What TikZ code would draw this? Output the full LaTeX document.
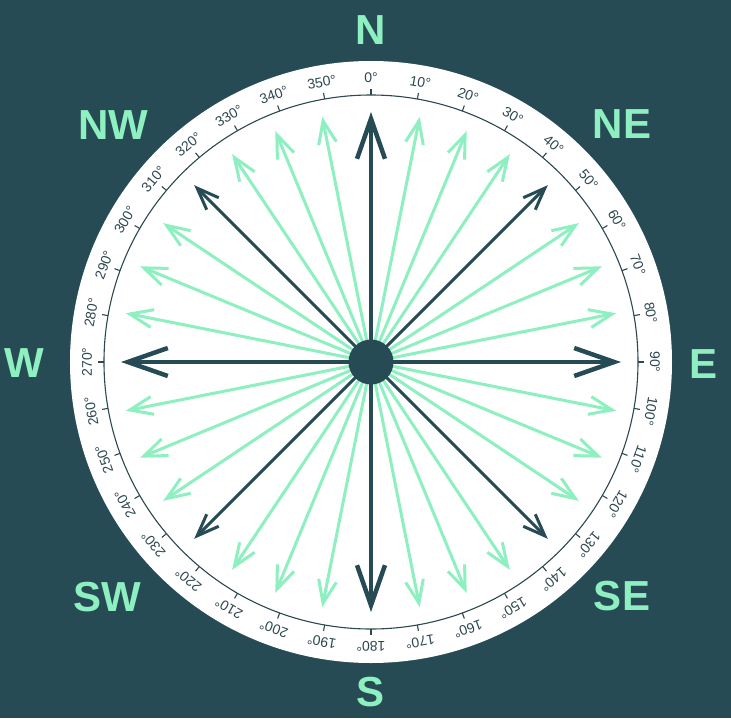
\documentclass[tikz,border=0pt]{standalone}
\usepackage{fontspec}
\setmainfont{Liberation Sans}
\usetikzlibrary{arrows.meta}
\definecolor{compassbg}{RGB}{38,75,84}
\definecolor{mint}{RGB}{142,240,192}
\definecolor{dialink}{RGB}{45,72,79}

\begin{document}
\begin{tikzpicture}[
    x=1pt, y=1pt,
    % text styles
    dirlabel/.style={text=mint, font=\fontsize{42}{42}\selectfont\bfseries, inner sep=0pt},
    deglabel/.style={text=dialink, font=\fontsize{14}{14}\selectfont, inner sep=0pt},
    % dial and rays
    dialline/.style={draw=dialink, line width=1.1pt},
    greenray/.style={draw=mint, line width=3pt, -{Straight Barb[length=23pt,width=18pt]}},
    mainray/.style={draw=compassbg, line width=4.5pt, -{Straight Barb[length=40pt,width=28pt]}},
    diagray/.style={draw=compassbg, line width=3pt, -{Straight Barb[length=22pt,width=17pt]}},
    hub/.style={circle, fill=compassbg, minimum size=45pt, inner sep=0pt}
]

% Background and compass face
\fill[compassbg] (-371,-356) rectangle (360,362);
\fill[white] (0,0) circle (301);
\draw[dialline] (0,0) circle (267);

% Degree ticks and labels every 10 degrees
\foreach \a in {0,10,...,350} {
  \draw[dialline] (90-\a:267) -- (90-\a:273);
  \node[deglabel, rotate=-\a] (deg\a) at (90-\a:284) {\a°};
}

\coordinate (c) at (0,0);

% Green rays on the 32-point rose (minor points)
\foreach \k in {0,...,7} {
  \foreach \j in {1,2,3} {
    \pgfmathsetmacro{\b}{45*\k+11.25*\j}
    \coordinate (g\k\j) at (90-\b:250);
    \draw[greenray] (c) -- (g\k\j);
  }
}

% Cardinal and intercardinal rays
\foreach \name/\b in {n/0, e/90, s/180, w/270} {
  \coordinate (t\name) at (90-\b:250);
  \draw[mainray] (c) -- (t\name);
}
\foreach \name/\b in {ne/45, se/135, sw/225, nw/315} {
  \coordinate (t\name) at (90-\b:250);
  \draw[diagray] (c) -- (t\name);
}

% Hub
\node[hub] (hub) at (c) {};

% Direction letters
\node[dirlabel] (lN)  at (0,332)       {N};
\node[dirlabel] (lS)  at (0,-330)      {S};
\node[dirlabel] (lE)  at (333,-2)      {E};
\node[dirlabel] (lW)  at (-347,-1)     {W};
\node[dirlabel] (lNE) at (251,238)     {NE};
\node[dirlabel] (lNW) at (-257.5,237)  {NW};
\node[dirlabel] (lSE) at (251,-234)    {SE};
\node[dirlabel] (lSW) at (-263.5,-235) {SW};

\end{tikzpicture}
\end{document}
